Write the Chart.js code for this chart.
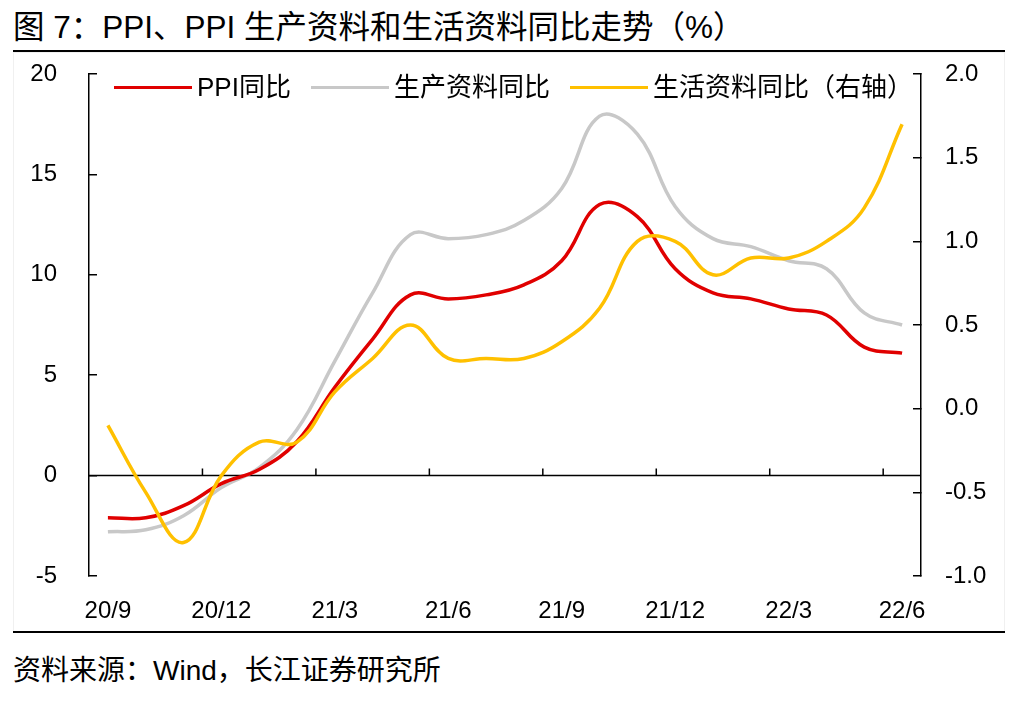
<!DOCTYPE html>
<html>
<head>
<meta charset="utf-8">
<script src="https://cdn.jsdelivr.net/npm/chart.js@4.4.1/dist/chart.umd.min.js"></script>
<style>
  body { margin: 0; width: 1023px; height: 703px; background: #fff; position: relative; overflow: hidden;
         font-family: "Liberation Sans", "Noto Sans CJK SC", sans-serif; color: #000; }
  .title { position: absolute; left: 13px; top: 12px; font-size: 31.5px; line-height: 31px; white-space: nowrap; }
  .rule { position: absolute; left: 13px; width: 992px; height: 2px; background: #000; }
  .box { position: absolute; left: 13px; top: 52px; width: 990px; height: 578px; border: 1px solid #f0f0f0; }
  .legend { position: absolute; left: 100px; top: 19px; display: flex; align-items: center; gap: 20px;
            font-size: 26px; line-height: 30px; white-space: nowrap; }
  .legend .item { display: flex; align-items: center; }
  .legend .swatch { display: inline-block; width: 78px; height: 3px; margin-right: 5px; }
  .source { position: absolute; left: 13px; top: 657px; font-size: 28px; line-height: 28px; white-space: nowrap; }
</style>
</head>
<body>
<div class="title">图 7：PPI、PPI 生产资料和生活资料同比走势（%）</div>
<div class="rule" style="top:50px"></div>
<div class="box">
  <canvas id="ppiChart"></canvas>
  <div class="legend" id="legend"></div>
</div>
<div class="rule" style="top:631px"></div>
<div class="source">资料来源：Wind，长江证券研究所</div>

<script>
// monthly, 2020/9 - 2022/6
const months = ['20/9', '20/10', '20/11', '20/12', '21/1', '21/2', '21/3', '21/4', '21/5', '21/6', '21/7',
  '21/8', '21/9', '21/10', '21/11', '21/12', '22/1', '22/2', '22/3', '22/4', '22/5', '22/6'];

const ppi = [-2.1, -2.1, -1.5, -0.4, 0.3, 1.7, 4.4, 6.8, 9.0, 8.8, 9.0,
  9.5, 10.7, 13.5, 12.9, 10.3, 9.1, 8.8, 8.3, 8.0, 6.4, 6.1];
const producerGoods = [-2.8, -2.7, -2.0, -0.6, 0.4, 2.3, 5.7, 9.1, 12.0, 11.8, 12.0,
  12.7, 14.3, 17.9, 17.0, 13.4, 11.8, 11.4, 10.7, 10.3, 8.1, 7.5];
// right axis
const consumerGoods = [-0.1, -0.5, -0.8, -0.4, -0.2, -0.2, 0.1, 0.3, 0.5, 0.3, 0.3,
  0.3, 0.4, 0.6, 1.0, 1.0, 0.8, 0.9, 0.9, 1.0, 1.2, 1.7];

const tickFont = { family: '"Liberation Sans", "Noto Sans CJK SC", sans-serif', size: 24 };

// zero line with small tick marks every quarter
const zeroAxis = {
  id: 'zeroAxis',
  beforeDatasetsDraw(chart) {
    const { ctx, chartArea, scales: { x, y } } = chart;
    const y0 = y.getPixelForValue(0);
    const half = (x.getPixelForValue(1) - x.getPixelForValue(0)) / 2;
    ctx.save();
    ctx.strokeStyle = '#000';
    ctx.lineWidth = 1.5;
    ctx.beginPath();
    ctx.moveTo(chartArea.left, y0);
    ctx.lineTo(chartArea.right, y0);
    for (let i = 3; i < months.length; i += 3) {
      const px = x.getPixelForValue(i) - half;
      ctx.moveTo(px, y0);
      ctx.lineTo(px, y0 - 7);
    }
    ctx.stroke();
    ctx.restore();
  }
};

// fixed axis size, and keep the big label padding from pushing the plot down
const fixWidth = w => s => {
  s.width = w;
  s.paddingTop = 12;
  s.paddingBottom = 12;
};

const chart = new Chart(document.getElementById('ppiChart'), {
  type: 'line',
  data: {
    labels: months,
    datasets: [
      {
        label: 'PPI同比',
        data: ppi,
        borderColor: '#E00000',
        backgroundColor: '#E00000',
        borderWidth: 3.5,
        yAxisID: 'y',
        order: 1,
      },
      {
        label: '生产资料同比',
        data: producerGoods,
        borderColor: '#C8C8C8',
        backgroundColor: '#C8C8C8',
        borderWidth: 3.5,
        yAxisID: 'y',
        order: 2,
      },
      {
        label: '生活资料同比（右轴）',
        data: consumerGoods,
        borderColor: '#FFC000',
        backgroundColor: '#FFC000',
        borderWidth: 3.5,
        yAxisID: 'y1',
        order: 0,
      },
    ],
  },
  options: {
    responsive: true,
    maintainAspectRatio: false,
    animation: false,
    layout: { padding: { top: 21, left: 0, right: 0, bottom: 0 } },
    elements: {
      point: { radius: 0 },
      line: { tension: 0.4 },
    },
    scales: {
      x: {
        offset: true,
        grid: { display: false },
        border: { display: false },
        ticks: {
          autoSkip: false,
          maxRotation: 0,
          padding: 13,
          color: '#000',
          font: tickFont,
          callback: (v, i) => (i % 3 === 0 ? months[i] : ''),
        },
        afterFit: s => { s.height = 55; },
      },
      y: {
        position: 'left',
        min: -5,
        max: 20,
        grid: { drawOnChartArea: false, drawTicks: true, tickLength: -8, color: '#000', lineWidth: 1.5 },
        border: { display: true, color: '#000', width: 1.5 },
        ticks: { stepSize: 5, padding: 40, color: '#000', font: tickFont },
        afterFit: fixWidth(75),
      },
      y1: {
        position: 'right',
        min: -1,
        max: 2,
        grid: { drawOnChartArea: false, drawTicks: true, tickLength: -8, color: '#000', lineWidth: 1.5 },
        border: { display: true, color: '#000', width: 1.5 },
        ticks: { stepSize: 0.5, padding: 32, color: '#000', font: tickFont, callback: v => v.toFixed(1) },
        afterFit: fixWidth(83),
      },
    },
    plugins: {
      legend: { display: false },
      tooltip: { enabled: false },
    },
  },
  plugins: [zeroAxis],
});

// legend overlaid on top of the plot
const legendBox = document.getElementById('legend');
chart.data.datasets.forEach(ds => {
  const item = document.createElement('span');
  item.className = 'item';
  const swatch = document.createElement('span');
  swatch.className = 'swatch';
  swatch.style.background = ds.borderColor;
  item.appendChild(swatch);
  item.appendChild(document.createTextNode(ds.label));
  legendBox.appendChild(item);
});
</script>
</body>
</html>
